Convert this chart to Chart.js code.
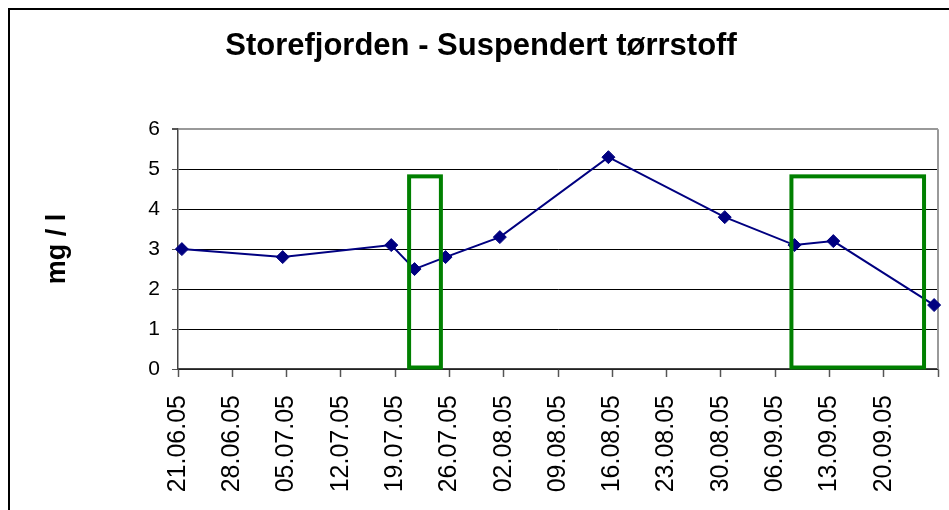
<!DOCTYPE html>
<html>
<head>
<meta charset="utf-8">
<script src="https://cdn.jsdelivr.net/npm/chart.js@4/dist/chart.umd.min.js"></script>
<style>
    html, body { margin: 0; padding: 0; background: #fff; }
    #wrap { position: relative; width: 949px; height: 510px; overflow: hidden; }
    #frame {
        position: absolute; left: 8px; top: 8px; width: 1000px; height: 600px;
        border: 2px solid #000; pointer-events: none;
    }
    canvas { position: absolute; left: 0; top: 0; }
</style>
</head>
<body>
<div id="wrap">
    <canvas id="chart" width="949" height="510"></canvas>
    <div id="frame"></div>
</div>
<script>
// Prøvedatoer og målte verdier (mg/l)
const sampleDates = ['21.06.05', '04.07.05', '18.07.05', '21.07.05', '25.07.05', '01.08.05',
                     '15.08.05', '30.08.05', '08.09.05', '13.09.05', '26.09.05'];
const tssValues = [3.0, 2.8, 3.1, 2.5, 2.8, 3.3, 5.3, 3.8, 3.1, 3.2, 1.6];

// Aksen: start 21.06.05, ukentlige streker, 98 dager
const axisStart = '21.06.05';
const axisDays = 98;
const tickStepDays = 7;
const yTicks = [0, 1, 2, 3, 4, 5, 6];

// Grønne markeringsbokser (dager fra aksestart, og toppverdi i mg/l)
const boxFromDay = [29.8, 79.1];
const boxToDay = [33.9, 96.2];
const boxTop = [4.82, 4.82];

const FONT = "'Liberation Sans', Arial, sans-serif";

function parseDate(s) {
    const [d, m, y] = s.split('.').map(Number);
    return Date.UTC(2000 + y, m - 1, d);
}
const DAY = 86400000;
const t0 = parseDate(axisStart);
function dayOf(s) { return Math.round((parseDate(s) - t0) / DAY); }
function labelFor(day) {
    const dt = new Date(t0 + day * DAY);
    const dd = String(dt.getUTCDate()).padStart(2, '0');
    const mm = String(dt.getUTCMonth() + 1).padStart(2, '0');
    const yy = String(dt.getUTCFullYear() % 100).padStart(2, '0');
    return `${dd}.${mm}.${yy}`;
}

// Excel plasserer punktene midt i dagen
const points = sampleDates.map((s, i) => ({ x: dayOf(s) + 0.5, y: tssValues[i] }));

const boxPlugin = {
    id: 'greenBoxes',
    afterDatasetsDraw(chart) {
        const { ctx, scales: { x, y } } = chart;
        ctx.save();
        ctx.strokeStyle = '#008000';
        ctx.lineWidth = 4;
        boxFromDay.forEach((from, i) => {
            const l = x.getPixelForValue(from);
            const r = x.getPixelForValue(boxToDay[i]);
            const t = y.getPixelForValue(boxTop[i]);
            const b = y.getPixelForValue(0) - 1.5;
            ctx.strokeRect(l, t, r - l, b - t);
        });
        ctx.restore();
    }
};

const borderPlugin = {
    id: 'plotBorder',
    beforeDatasetsDraw(chart) {
        const { ctx, chartArea: a } = chart;
        ctx.save();
        ctx.strokeStyle = '#999';
        ctx.lineWidth = 2;
        ctx.beginPath();
        ctx.moveTo(a.right, a.top);
        ctx.lineTo(a.right, a.bottom);
        ctx.stroke();
        ctx.restore();
    }
};

new Chart(document.getElementById('chart'), {
    type: 'scatter',
    data: {
        datasets: [{
            data: points,
            showLine: true,
            borderColor: '#000080',
            backgroundColor: '#000080',
            borderWidth: 2,
            pointStyle: 'rectRot',
            pointRadius: 6.5,
            pointBorderWidth: 1,
            clip: false
        }]
    },
    options: {
        responsive: false,
        animation: false,
        layout: { padding: { left: 13, right: 0, top: 0, bottom: 0 } },
        plugins: {
            legend: { display: false },
            tooltip: { enabled: false },
            title: {
                display: true,
                text: 'Storefjorden - Suspendert tørrstoff',
                color: '#000',
                font: { family: FONT, size: 31, weight: 'bold', lineHeight: 1.2 },
                padding: { top: 28, bottom: 64 }
            }
        },
        scales: {
            x: {
                type: 'linear',
                min: 0,
                max: axisDays,
                afterBuildTicks: (scale) => {
                    const t = [];
                    for (let d = 0; d <= axisDays; d += tickStepDays) t.push({ value: d });
                    scale.ticks = t;
                },
                afterFit: (scale) => {
                    scale.height = 141;
                    scale.paddingLeft = 0;
                    scale.paddingRight = 11;
                },
                border: { display: true, color: '#444', width: 1.5 },
                grid: { drawOnChartArea: false, drawTicks: true, tickLength: 8, tickColor: '#555', tickWidth: 1.5 },
                ticks: {
                    autoSkip: false,
                    minRotation: 90,
                    maxRotation: 90,
                    padding: 18,
                    color: '#000',
                    font: { family: FONT, size: 25 },
                    callback: (v) => (v >= axisDays ? '' : labelFor(v))
                }
            },
            y: {
                min: yTicks[0],
                max: yTicks[yTicks.length - 1],
                afterBuildTicks: (scale) => { scale.ticks = yTicks.map(v => ({ value: v })); },
                afterFit: (scale) => {
                    scale.width = 165;
                    scale.paddingTop = 0;
                    scale.paddingBottom = 0;
                },
                border: { display: true, color: '#444', width: 1.5 },
                grid: {
                    color: (c) => (c.tick && c.tick.value === yTicks[yTicks.length - 1] ? '#999' : '#000'),
                    lineWidth: (c) => (c.tick && c.tick.value === yTicks[yTicks.length - 1] ? 2 : 1),
                    drawTicks: true,
                    tickLength: 6,
                    tickColor: '#555'
                },
                ticks: {
                    padding: 12,
                    color: '#000',
                    font: { family: FONT, size: 21 }
                },
                title: {
                    display: true,
                    text: 'mg / l',
                    color: '#000',
                    font: { family: FONT, size: 27, weight: 'bold', lineHeight: 1.2 },
                    padding: { top: 28, bottom: 0 }
                }
            }
        }
    },
    plugins: [boxPlugin, borderPlugin]
});
</script>
</body>
</html>
